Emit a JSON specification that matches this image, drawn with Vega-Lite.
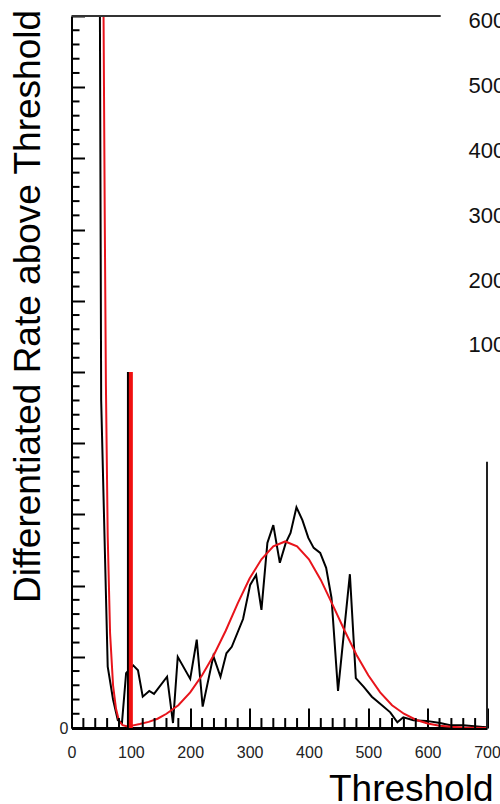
{
  "$schema": "https://vega.github.io/schema/vega-lite/v6.json",
  "autosize": {"type": "none"},
  "width": 415.5,
  "height": 712,
  "padding": {"left": 71.5, "top": 16, "right": 13, "bottom": 76},
  "background": "white",
  "config": {
    "view": {"stroke": null},
    "font": "Liberation Sans",
    "axis": {"grid": false, "labelFont": "Liberation Sans", "titleFont": "Liberation Sans", "titleFontWeight": "normal"}
  },
  "datasets": {
    "obs": [
      {"x": 40, "y": 3000}, {"x": 50, "y": 460}, {"x": 61, "y": 86}, {"x": 70, "y": 40}, {"x": 78, "y": 11},
      {"x": 85, "y": 7}, {"x": 92, "y": 77}, {"x": 104, "y": 88}, {"x": 112, "y": 81}, {"x": 120, "y": 44},
      {"x": 131, "y": 52}, {"x": 139, "y": 48}, {"x": 161, "y": 72}, {"x": 171, "y": 7}, {"x": 179, "y": 100},
      {"x": 200, "y": 69}, {"x": 211, "y": 124}, {"x": 221, "y": 30}, {"x": 239, "y": 101}, {"x": 251, "y": 72},
      {"x": 261, "y": 105}, {"x": 270, "y": 114}, {"x": 289, "y": 153}, {"x": 301, "y": 201}, {"x": 311, "y": 215},
      {"x": 320, "y": 166}, {"x": 330, "y": 260}, {"x": 340, "y": 285}, {"x": 351, "y": 232}, {"x": 361, "y": 260},
      {"x": 369, "y": 274}, {"x": 379, "y": 310}, {"x": 389, "y": 292}, {"x": 399, "y": 267}, {"x": 408, "y": 253},
      {"x": 419, "y": 246}, {"x": 429, "y": 225}, {"x": 438, "y": 183}, {"x": 449, "y": 52}, {"x": 469, "y": 216},
      {"x": 479, "y": 70}, {"x": 492, "y": 58}, {"x": 506, "y": 44}, {"x": 520, "y": 34}, {"x": 537, "y": 22},
      {"x": 549, "y": 8}, {"x": 559, "y": 15}, {"x": 576, "y": 11}, {"x": 598, "y": 10}, {"x": 621, "y": 7},
      {"x": 638, "y": 4}, {"x": 660, "y": 4}, {"x": 693, "y": 1.5}, {"x": 700, "y": 1}
    ],
    "fit": [
      {"x": 50, "y": 2000}, {"x": 54, "y": 1000}, {"x": 56, "y": 720}, {"x": 58, "y": 480}, {"x": 61, "y": 270},
      {"x": 65, "y": 133}, {"x": 70, "y": 60}, {"x": 75, "y": 27}, {"x": 80, "y": 10}, {"x": 86, "y": 4},
      {"x": 93, "y": 2.5}, {"x": 100, "y": 3}, {"x": 115, "y": 5.5}, {"x": 130, "y": 8.6}, {"x": 145, "y": 13},
      {"x": 160, "y": 20}, {"x": 180, "y": 32}, {"x": 200, "y": 50}, {"x": 220, "y": 74}, {"x": 240, "y": 103},
      {"x": 260, "y": 137}, {"x": 280, "y": 175}, {"x": 300, "y": 210}, {"x": 320, "y": 237}, {"x": 340, "y": 255},
      {"x": 360, "y": 262}, {"x": 380, "y": 255}, {"x": 400, "y": 237}, {"x": 420, "y": 208}, {"x": 440, "y": 173},
      {"x": 460, "y": 137}, {"x": 480, "y": 103}, {"x": 500, "y": 74}, {"x": 520, "y": 50}, {"x": 540, "y": 32},
      {"x": 560, "y": 20}, {"x": 580, "y": 11.6}, {"x": 600, "y": 6.3}, {"x": 620, "y": 3.3}, {"x": 640, "y": 1.6},
      {"x": 660, "y": 0.8}, {"x": 680, "y": 0.4}, {"x": 700, "y": 0.15}
    ],
    "marker": [{"x": 100, "y": 500}],
    "markerLine": [{"x": 95.5, "y": 500}],
    "edge": [{"x": 700, "y": 374}],
    "yminor": [
      {"t": 20}, {"t": 40}, {"t": 60}, {"t": 80}, {"t": 120}, {"t": 140}, {"t": 160}, {"t": 180},
      {"t": 220}, {"t": 240}, {"t": 260}, {"t": 280}, {"t": 320}, {"t": 340}, {"t": 360}, {"t": 380},
      {"t": 420}, {"t": 440}, {"t": 460}, {"t": 480}, {"t": 520}, {"t": 540}, {"t": 560}, {"t": 580},
      {"t": 620}, {"t": 640}, {"t": 660}, {"t": 680}, {"t": 720}, {"t": 740}, {"t": 760}, {"t": 780},
      {"t": 820}, {"t": 840}, {"t": 860}, {"t": 880}, {"t": 920}, {"t": 940}, {"t": 960}, {"t": 980}
    ],
    "xminor": [
      {"t": 20}, {"t": 40}, {"t": 60}, {"t": 80}, {"t": 120}, {"t": 140}, {"t": 160}, {"t": 180},
      {"t": 220}, {"t": 240}, {"t": 260}, {"t": 280}, {"t": 320}, {"t": 340}, {"t": 360}, {"t": 380},
      {"t": 420}, {"t": 440}, {"t": 460}, {"t": 480}, {"t": 520}, {"t": 540}, {"t": 560}, {"t": 580},
      {"t": 620}, {"t": 640}, {"t": 660}, {"t": 680}
    ],
    "other": [{"r": 100}, {"r": 200}, {"r": 300}, {"r": 400}, {"r": 500}, {"r": 600}]
  },
  "layer": [
    {
      "layer": [
        {
          "data": {"name": "obs"},
          "mark": {"type": "line", "color": "#000000", "strokeWidth": 2, "clip": true},
          "encoding": {
            "x": {
              "field": "x", "type": "quantitative",
              "scale": {"domain": [0, 700], "nice": false, "zero": false},
              "axis": {
                "values": [0, 100, 200, 300, 400, 500, 600, 700],
                "tickSize": -20,
                "tickColor": "#000000", "tickWidth": 2,
                "domainColor": "#000000", "domainWidth": 3,
                "labelFontSize": 16, "labelColor": "#222222", "labelPadding": 36, "labelFlush": false, "labelOverlap": false,
                "title": "Threshold", "titleFontSize": 37, "titleColor": "#000000",
                "titleAlign": "right", "titleBaseline": "alphabetic", "titleX": 421.5, "titleY": 72
              }
            },
            "y": {
              "field": "y", "type": "quantitative",
              "scale": {"domain": [0, 1000], "nice": false, "zero": false},
              "axis": {
                "values": [0, 100, 200, 300, 400, 500, 600, 700, 800, 900, 1000],
                "labelExpr": "datum.value === 0 ? '0' : ''",
                "tickSize": -13,
                "tickColor": "#000000", "tickWidth": 2,
                "domainColor": "#000000", "domainWidth": 2,
                "labelFontSize": 16, "labelColor": "#222222", "labelPadding": 16.5, "labelOverlap": false,
                "title": "Differentiated Rate above Threshold", "titleFontSize": 37, "titleColor": "#000000",
                "titleAlign": "center", "titleBaseline": "alphabetic", "titleAngle": -90, "titleX": -32, "titleY": 290
              }
            }
          }
        },
        {
          "data": {"name": "fit"},
          "mark": {"type": "line", "color": "#e8141b", "strokeWidth": 2, "clip": true},
          "encoding": {
            "x": {"field": "x", "type": "quantitative"},
            "y": {"field": "y", "type": "quantitative"}
          }
        },
        {
          "data": {"name": "yminor"},
          "mark": {"type": "rule", "color": "#000000", "strokeWidth": 2},
          "encoding": {
            "y": {"field": "t", "type": "quantitative"},
            "x": {"datum": 0},
            "x2": {"datum": 13.5}
          }
        },
        {
          "data": {"name": "xminor"},
          "mark": {"type": "rule", "color": "#000000", "strokeWidth": 2},
          "encoding": {
            "x": {"field": "t", "type": "quantitative"},
            "y": {"datum": 0},
            "y2": {"datum": 14}
          }
        },
        {
          "data": {"name": "markerLine"},
          "mark": {"type": "rule", "color": "#000000", "strokeWidth": 2.5},
          "encoding": {
            "x": {"field": "x", "type": "quantitative"},
            "y": {"field": "y", "type": "quantitative"},
            "y2": {"datum": 0}
          }
        },
        {
          "data": {"name": "marker"},
          "mark": {"type": "rule", "color": "#f01010", "strokeWidth": 4},
          "encoding": {
            "x": {"field": "x", "type": "quantitative"},
            "y": {"field": "y", "type": "quantitative"},
            "y2": {"datum": 0}
          }
        },
        {
          "data": {"name": "edge"},
          "mark": {"type": "rule", "color": "#222222", "strokeWidth": 2},
          "encoding": {
            "x": {"field": "x", "type": "quantitative"},
            "y": {"field": "y", "type": "quantitative"},
            "y2": {"datum": 0}
          }
        },
        {
          "data": {"values": [{"x": 0, "x2": 622, "y": 1000}]},
          "mark": {"type": "rule", "color": "#333333", "strokeWidth": 2},
          "encoding": {
            "x": {"field": "x", "type": "quantitative"},
            "x2": {"field": "x2"},
            "y": {"field": "y", "type": "quantitative"}
          }
        }
      ]
    },
    {
      "data": {"name": "other"},
      "mark": {"type": "point", "opacity": 0},
      "encoding": {
        "y": {
          "field": "r", "type": "quantitative",
          "scale": {"domain": [-490.6, 607.2], "nice": false, "zero": false},
          "axis": {
            "orient": "right", "values": [100, 200, 300, 400, 500, 600],
            "domain": false, "ticks": false, "labelPadding": -19,
            "labelFontSize": 22, "labelColor": "#111111", "title": null, "labelFlush": false
          }
        }
      }
    }
  ],
  "resolve": {"scale": {"y": "independent"}}
}
